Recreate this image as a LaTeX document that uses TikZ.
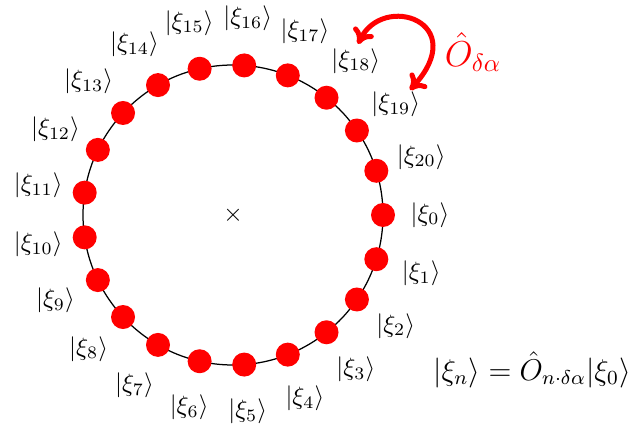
\documentclass[tikz,border=0pt]{standalone}
\usetikzlibrary{arrows.meta}
\begin{document}
\begin{tikzpicture}[x=0.4pt,y=-0.4pt,
  dot/.style={circle,fill=red,inner sep=0pt,minimum size=9.6pt},
  ket/.style={inner sep=0pt},
  opar/.style={red,line width=2pt,{To[length=6pt,width=9pt]}-{To[length=6pt,width=9pt]}}]
\useasboundingbox (0,0) rectangle (628,432);
\begin{scope}[shift={(233,215)}]
  \draw[line width=0.5pt] (0,0) circle[radius=150];
  \node (cross) at (0,0) {$\times$};
  \foreach \n in {0,...,20} {
    \node[dot] (d\n) at (\n*360/21:150) {};
    \node[ket] (l\n) at (\n*360/21:197) {$|\xi_{\n}\rangle$};
  }
\end{scope}
\coordinate (a1) at (358,44);
\coordinate (a2) at (410,90);
\draw[opar] (a1) .. controls (383,-8) and (472,22) .. (a2);
\node[red] (op) at (473,52) {\Large $\hat{O}_{\delta\alpha}$};
\node[inner sep=0pt] (eq) at (532,370) {\large $|\xi_n\rangle = \hat{O}_{n\cdot\delta\alpha}|\xi_0\rangle$};
\end{tikzpicture}
\end{document}
